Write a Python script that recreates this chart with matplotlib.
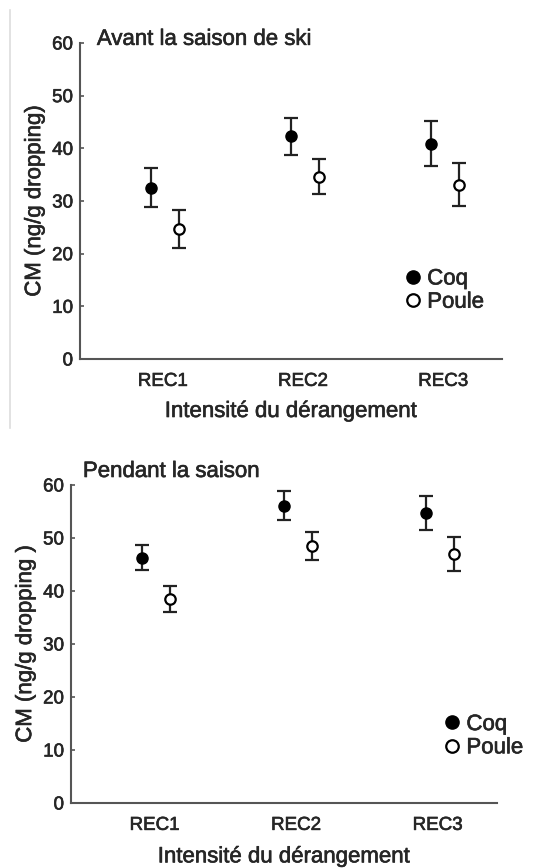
import matplotlib
matplotlib.use("Agg")
import matplotlib.pyplot as plt
from matplotlib.lines import Line2D
import matplotlib.patheffects as pe_mod
import numpy as np

plt.rcParams['font.family'] = ['Liberation Sans', 'DejaVu Sans']

categories = ["REC1", "REC2", "REC3"]
series = ["Coq", "Poule"]
yticks = [0, 10, 20, 30, 40, 50, 60]

# Panel 1: Avant la saison de ski
avant_coq = [32.5, 42.3, 40.9]
avant_coq_err = [3.7, 3.5, 4.25]
avant_poule = [24.7, 34.6, 33.1]
avant_poule_err = [3.65, 3.35, 4.1]

# Panel 2: Pendant la saison
pendant_coq = [46.3, 56.1, 54.7]
pendant_coq_err = [2.35, 2.7, 3.2]
pendant_poule = [38.5, 48.4, 47.0]
pendant_poule_err = [2.5, 2.65, 3.2]

titles = ["Avant la saison de ski", "Pendant la saison"]
ylabels = ["CM (ng/g dropping)", "CM (ng/g dropping )"]
xlabel = "Intensité du dérangement"

TXT = '#262626'
AX = '#555555'
thick = [pe_mod.withStroke(linewidth=0.45, foreground=TXT)]

fig = plt.figure(figsize=(5.47, 8.68), dpi=100)
ax1 = fig.add_axes([0.1463, 0.5864, 0.7715, 0.3641])
ax2 = fig.add_axes([0.1298, 0.0749, 0.7788, 0.3664])

# light gray border line on the left of top panel
fig.add_artist(Line2D([10/547, 10/547], [1-10/868, 1-428/868], color='#dddddd', lw=1.2,
                      transform=fig.transFigure))

panels = [
    (ax1, avant_coq, avant_coq_err, avant_poule, avant_poule_err, titles[0], ylabels[0],
     (0.04, 0.994), (0.770, 0.2165), 8),
    (ax2, pendant_coq, pendant_coq_err, pendant_poule, pendant_poule_err, titles[1], ylabels[1],
     (0.028, 1.025), (0.876, 0.21), 9),
]

x = np.arange(1, len(categories) + 1)
for ax, c, ce, p, pe, title, ylab, tpos, lpos, xlp in panels:
    ax.errorbar(x - 0.085, c, yerr=ce, fmt='o', color='black', ecolor='#222222',
                elinewidth=1.6, capsize=4.8, capthick=1.6, markersize=8,
                markerfacecolor='black', markeredgecolor='black', zorder=3)
    ax.errorbar(x + 0.113, p, yerr=pe, fmt='o', color='black', ecolor='#222222',
                elinewidth=1.6, capsize=4.8, capthick=1.6, markersize=7.5,
                markerfacecolor='white', markeredgecolor='black', markeredgewidth=1.6,
                zorder=3)
    ax.set_xlim(0.41, 3.42)
    ax.set_ylim(0, 60)
    ax.set_yticks(yticks)
    ax.set_xticks(x)
    ax.set_xticklabels(categories)
    for s in ['top', 'right']:
        ax.spines[s].set_visible(False)
    for s in ['left', 'bottom']:
        ax.spines[s].set_color(AX)
        ax.spines[s].set_linewidth(1.5)
    ax.tick_params(axis='y', direction='in', length=3, width=1.2, color=AX,
                   labelsize=13.5, labelcolor=TXT, pad=5)
    ax.tick_params(axis='x', length=0, labelsize=13.5, labelcolor=TXT, pad=10)
    for lab in ax.get_xticklabels() + ax.get_yticklabels():
        lab.set_path_effects(thick)
    yl = ax.set_ylabel(ylab, fontsize=16, color=TXT, labelpad=5)
    yl.set_path_effects(thick)
    xl = ax.set_xlabel(xlabel, fontsize=16, color=TXT, labelpad=xlp)
    xl.set_path_effects(thick)
    t = ax.text(tpos[0], tpos[1], title, transform=ax.transAxes, fontsize=16, color=TXT,
                ha='left', va='baseline')
    t.set_path_effects(thick)
    handles = [
        Line2D([], [], linestyle='none', marker='o', markersize=9.5,
               markerfacecolor='black', markeredgecolor='black'),
        Line2D([], [], linestyle='none', marker='o', markersize=9,
               markerfacecolor='white', markeredgecolor='black', markeredgewidth=1.6),
    ]
    leg = ax.legend(handles, series, loc='center left', bbox_to_anchor=lpos, frameon=False,
                    fontsize=16, handlelength=0.7, handletextpad=0.3, labelspacing=0.1,
                    borderpad=0, borderaxespad=0, labelcolor=TXT)
    for tx in leg.get_texts():
        tx.set_path_effects(thick)

fig.savefig("out.png", dpi=100)
